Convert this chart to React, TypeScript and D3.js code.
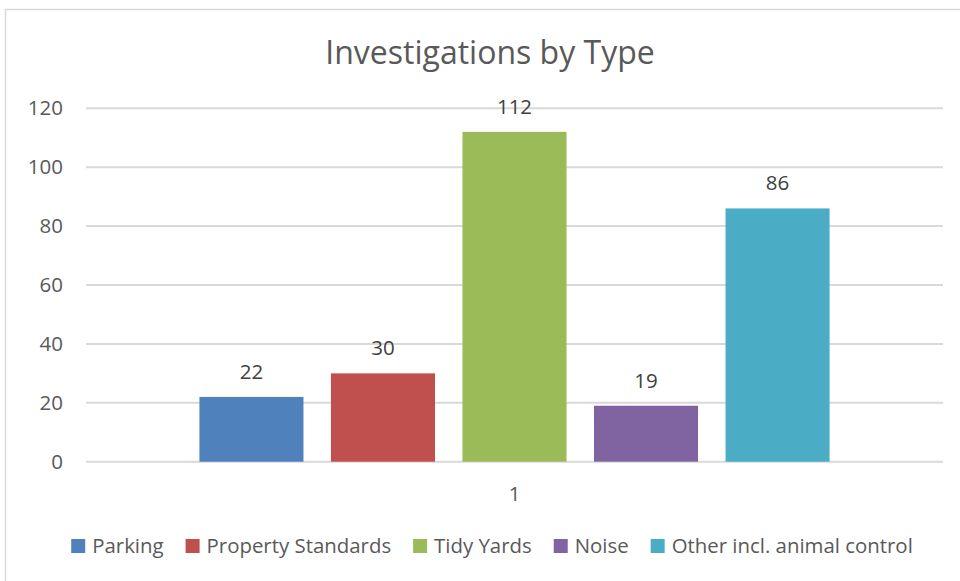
import React from "react";
import * as d3 from "d3";

const categories = ["1"];
const seriesNames = ["Parking", "Property Standards", "Tidy Yards", "Noise", "Other incl. animal control"];
const seriesValues = [22, 30, 112, 19, 86];
const seriesColors = ["#4F81BD", "#C0504D", "#9BBB59", "#8064A2", "#4BACC6"];
const yTicks = [0, 20, 40, 60, 80, 100, 120];
const title = "Investigations by Type";

const W = 960;
const H = 581;
const FONT = "'Open Sans', 'Noto Sans', sans-serif";

function measure(text: string, size: number): number {
  const c = document.createElement("canvas");
  const ctx = c.getContext("2d");
  if (!ctx) return text.length * size * 0.5;
  ctx.font = `${size}px 'Open Sans'`;
  return ctx.measureText(text).width;
}

export default function App() {
  const plotLeft = 86;
  const plotRight = 943;
  const plotTop = 108.3;
  const plotBottom = 461.7;

  const y = d3.scaleLinear().domain([0, 120]).range([plotBottom, plotTop]);
  const x0 = d3.scaleBand<string>().domain(categories).range([plotLeft, plotRight]).paddingInner(0).paddingOuter(0.18);
  const x1 = d3.scaleBand<string>().domain(seriesNames).range([0, x0.bandwidth()]).paddingInner(0.209).paddingOuter(0);

  const legendFont = 20.4;
  const sq = 14;
  const sqGap = 7;
  const itemGap = 22;
  const widths = seriesNames.map((s) => sq + sqGap + measure(s, legendFont));
  const total = widths.reduce((a, b) => a + b, 0) + itemGap * (seriesNames.length - 1);
  const legendStart = 492 - total / 2;
  const legendX: number[] = [];
  let acc = legendStart;
  widths.forEach((w) => {
    legendX.push(acc);
    acc += w + itemGap;
  });

  return (
    <svg width={W} height={H} style={{ position: "absolute", left: 0, top: 0, background: "#fff" }} fontFamily={FONT}>
      <rect x={5.5} y={9.5} width={W} height={H} fill="#fff" stroke="#D9D9D9" strokeWidth={1.5} />
      <text x={490} y={64} textAnchor="middle" fontSize={32} fill="#595959">{title}</text>
      {yTicks.map((t) => (
        <g key={t}>
          <line x1={plotLeft} x2={plotRight} y1={y(t)} y2={y(t)} stroke="#D9D9D9" strokeWidth={2} />
          <text x={63} y={y(t)} dy="0.35em" textAnchor="end" fontSize={20.5} fill="#595959">{t}</text>
        </g>
      ))}
      {categories.map((c) => (
        <g key={c} transform={`translate(${x0(c)},0)`}>
          {seriesNames.map((s, i) => (
            <g key={s}>
              <rect x={x1(s)} y={y(seriesValues[i])} width={x1.bandwidth()} height={y(0) - y(seriesValues[i])} fill={seriesColors[i]} />
              <text x={(x1(s) as number) + x1.bandwidth() / 2} y={y(seriesValues[i]) - 18} textAnchor="middle" fontSize={20.5} fill="#404040">{seriesValues[i]}</text>
            </g>
          ))}
          <text x={x0.bandwidth() / 2} y={501} textAnchor="middle" fontSize={20.5} fill="#595959">{c}</text>
        </g>
      ))}
      {seriesNames.map((s, i) => (
        <g key={s} transform={`translate(${legendX[i]},0)`}>
          <rect x={0} y={539} width={sq} height={sq} fill={seriesColors[i]} />
          <text x={sq + sqGap} y={553} fontSize={legendFont} fill="#595959">{s}</text>
        </g>
      ))}
    </svg>
  );
}
